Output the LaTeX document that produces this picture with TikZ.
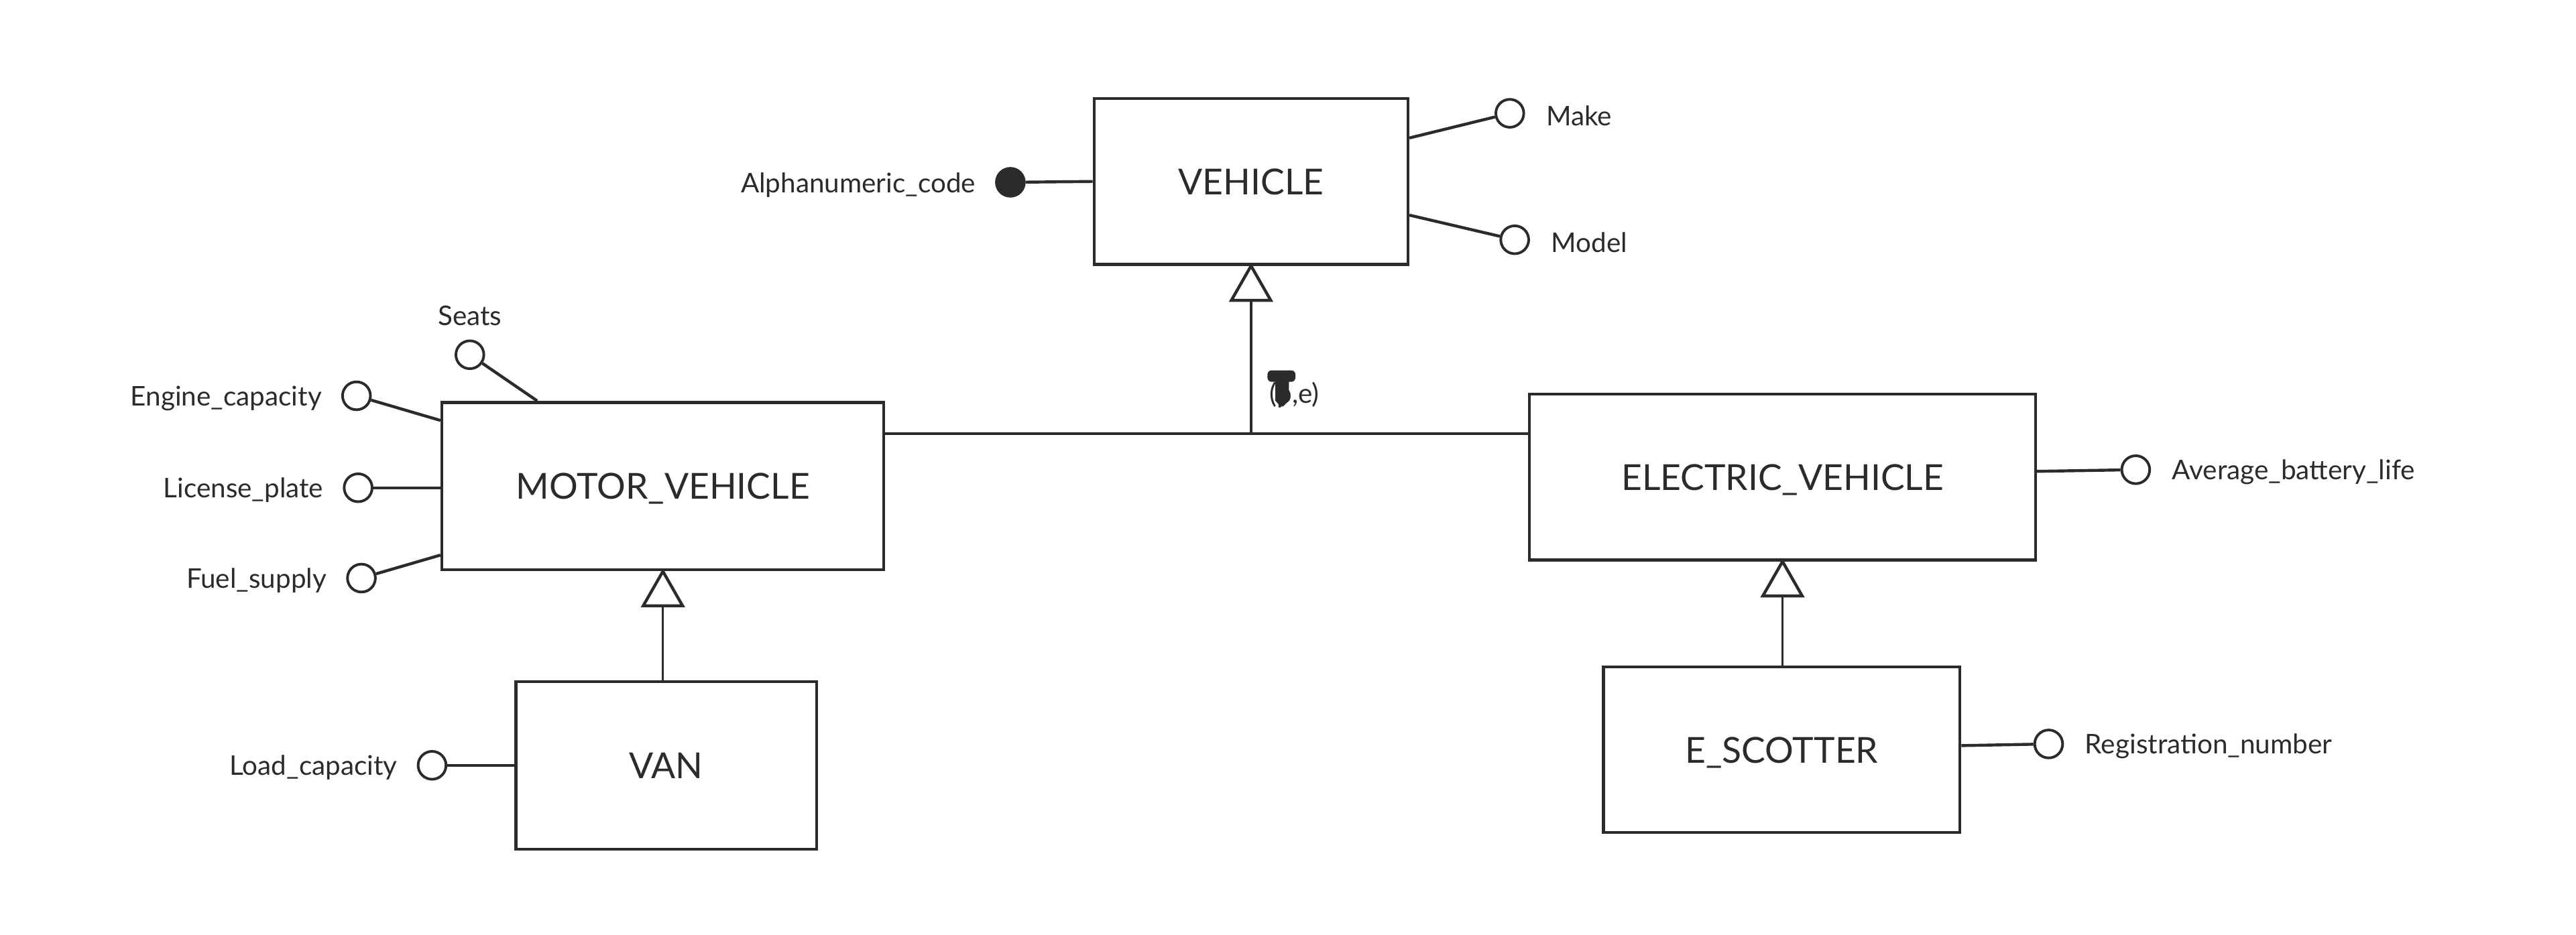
\documentclass[tikz,border=0pt]{standalone}
\usepackage{fontspec}
\setmainfont{Lato}
\definecolor{ink}{HTML}{2B2B2B}
\begin{document}
\begin{tikzpicture}[x=1pt,y=-1pt,color=ink,line width=1.8pt,
  ent/.style={draw=ink,fill=white,inner sep=0,line width=1.8pt,font=\fontsize{21.8}{26}\selectfont,text=ink,text height=16pt,text depth=0pt},
  att/.style={circle,draw=ink,fill=white,minimum size=17pt,inner sep=0,line width=1.6pt},
  keyatt/.style={att,fill=ink},
  lab/.style={font=\fontsize{16.5}{19}\selectfont,text=ink,inner sep=0,yshift=-1.5pt},
  conn/.style={draw=ink,line width=1.8pt},
  thin/.style={draw=ink,line width=1.4pt},
  isa/.style={draw=ink,fill=white,line width=1.8pt,line join=miter},
]
\useasboundingbox (0,0) rectangle (1568,569);

% entities
\node[ent,minimum width=191pt,minimum height=101pt] (veh) at (761.5,110.5) {VEHICLE};
\node[ent,minimum width=269pt,minimum height=102pt] (mv) at (403.5,296) {MOTOR\_VEHICLE};
\node[ent,minimum width=183pt,minimum height=102pt] (van) at (405.5,466) {VAN};
\node[ent,minimum width=308pt,minimum height=101pt] (ev) at (1085,290.5) {ELECTRIC\_VEHICLE};
\node[ent,minimum width=217pt,minimum height=101pt] (esc) at (1084.5,456.5) {E\_SCOTTER};

% attributes
\node[keyatt,label={[lab,label distance=11pt]left:Alphanumeric\_code}] (alpha) at (615,111) {};
\node[att,label={[lab,label distance=12pt]right:Make}] (make) at (919,69) {};
\node[att,label={[lab,label distance=12pt]right:Model}] (model) at (922,146) {};
\node[att,label={[lab,label distance=9pt]above:Seats}] (seats) at (286,216) {};
\node[att,label={[lab,label distance=11pt]left:Engine\_capacity}] (engine) at (217,241) {};
\node[att,label={[lab,label distance=11pt]left:License\_plate}] (lic) at (218,297) {};
\node[att,label={[lab,label distance=11pt]left:Fuel\_supply}] (fuel) at (220,352) {};
\node[att,label={[lab,label distance=11pt]left:Load\_capacity}] (load) at (263,466) {};
\node[att,label={[lab,label distance=12pt]right:Average\_battery\_life}] (avg) at (1300,286) {};
\node[att,label={[lab,label distance=12pt]right:Registration\_number}] (reg) at (1247,453) {};

% attribute connectors
\draw[conn] (veh.west) -- (alpha);
\draw[conn] ([yshift=26.5pt]veh.east) -- (make);
\draw[conn] ([yshift=-20.5pt]veh.east) -- (model);
\draw[conn] ([xshift=-76.5pt]mv.north) -- (seats);
\draw[conn] ([yshift=40pt]mv.west) -- (engine);
\draw[conn] (lic -| mv.west) -- (lic);
\draw[conn] ([yshift=-42pt]mv.west) -- (fuel);
\draw[conn] (load -| van.west) -- (load);
\draw[conn] ([yshift=3.5pt]ev.east) -- (avg);
\draw[conn] ([yshift=2.5pt]esc.east) -- (reg);

% generalization VEHICLE
\coordinate (mvj) at ([yshift=32pt]mv.east);
\coordinate (evj) at ([yshift=26.5pt]ev.west);
\coordinate (t1) at ([yshift=-21pt]veh.south);
\draw[conn] (mvj) -- (evj);
\draw[thin] (t1) -- (t1 |- mvj);
\draw[isa] (veh.south) -- ++(-12,21) -- ++(24,0) -- cycle;
\node[lab,anchor=west] (pe) at (772,239) {(p,e)};
\fill[ink,rounded corners=2.5pt] (771.5,225.5) rectangle (788.5,232.5);
\fill[ink] (776.3,231) -- (784.5,231) -- (784.5,244) -- (781,247.5) -- (779.5,247.5) -- (776.3,244) -- cycle;

% generalization MOTOR_VEHICLE
\coordinate (t2) at ([yshift=-21pt]mv.south);
\draw[thin] (t2) -- (t2 |- van.north);
\draw[isa] (mv.south) -- ++(-12,21) -- ++(24,0) -- cycle;

% generalization ELECTRIC_VEHICLE
\coordinate (t3) at ([yshift=-21pt]ev.south);
\draw[thin] (t3) -- (t3 |- esc.north);
\draw[isa] (ev.south) -- ++(-12,21) -- ++(24,0) -- cycle;
\end{tikzpicture}
\end{document}
